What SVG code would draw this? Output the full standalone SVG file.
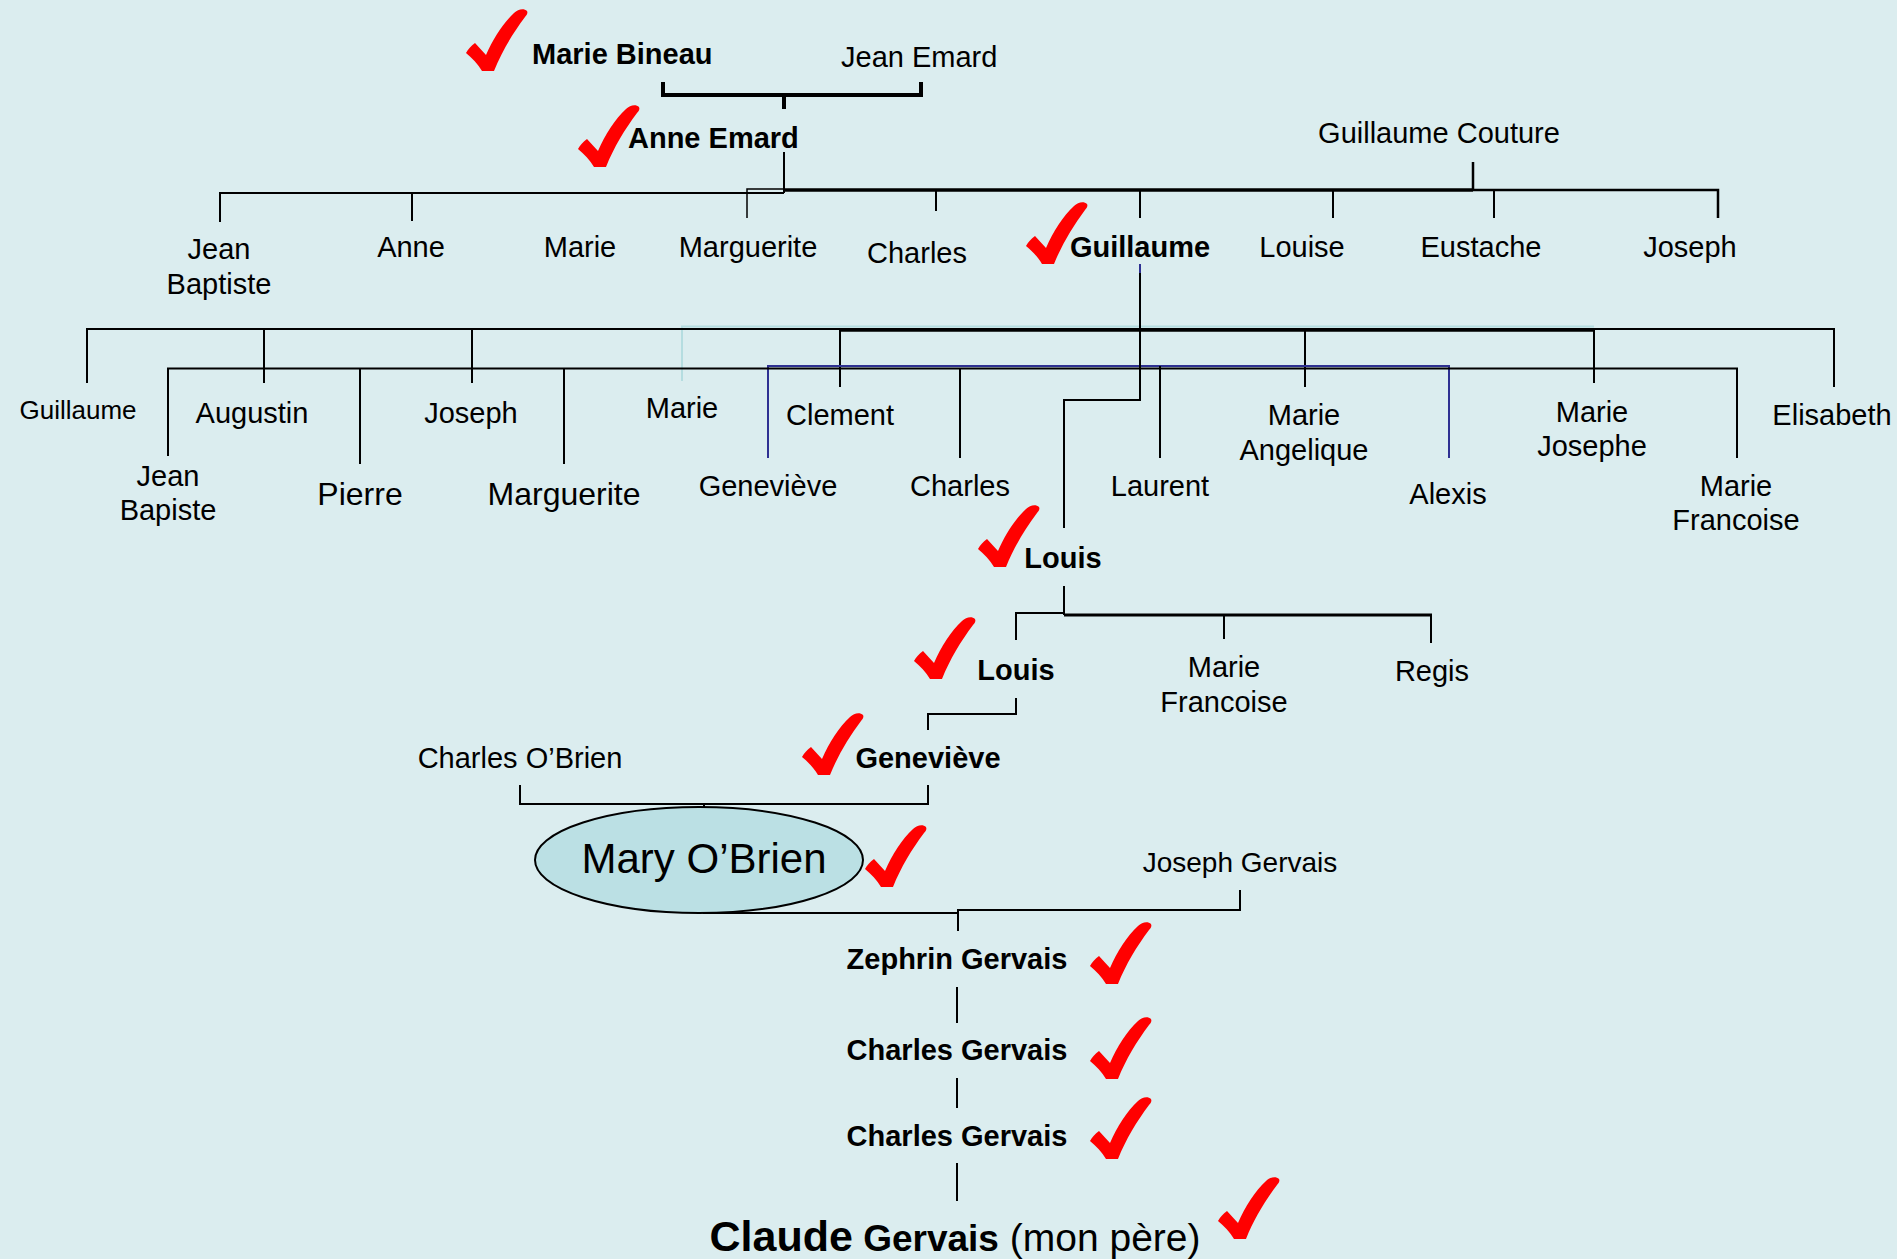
<svg xmlns="http://www.w3.org/2000/svg" width="1897" height="1259" viewBox="0 0 1897 1259">
<defs>
<style>
text{font-family:"Liberation Sans",Arial,sans-serif;font-size:29px;fill:#000;text-anchor:middle}
.b{font-weight:bold}
.s{text-anchor:start}
.ln{fill:none;stroke:#000;stroke-width:2}
.tk{fill:none;stroke:#000;stroke-width:4}
.bl{fill:none;stroke:#2E3192;stroke-width:2}
.lb{fill:none;stroke:#B5DDE0;stroke-width:2}
.chk{fill:#FF0000}
</style>
<path id="chk" class="chk" d="M0 44 C2 40 5 37 9 34 L20 46 C27 30 37 14 48 4 C52 0 58 -1 61 2 C62 4 61 6 59 8 C47 24 36 42 28 62 L16 62 C12 55 6 49 0 44 Z"/>
</defs>
<rect width="1897" height="1259" fill="#DBEDEF"/>

<g id="connectors">
<path class="tk" d="M663 82 V95 H921 V82 M784 95 V109"/>
<path class="ln" d="M784 152 V193 M220 222 V193 H784"/>
<path class="ln" style="stroke-width:1.5" d="M747 218 V189 H784"/>
<path class="ln" style="stroke-width:3.5" d="M784 190 H1473"/>
<path class="ln" style="stroke-width:2.5" d="M1473 190 H1718 V218 M1473 162 V190"/>
<path class="ln" d="M412 193 V221 M936 191 V211 M1140 191 V218 M1333 191 V218 M1494 191 V218"/>
<path class="bl" d="M1140 264 V273"/>
<path class="lb" d="M682 381 V326.5 H1594"/>
<path class="ln" d="M87 383 V329 H1834 V387"/>
<path class="ln" style="stroke-width:3.5" d="M840 330 H1594"/>
<path class="ln" d="M264 329 V383 M472 329 V383 M840 329 V387 M1305 329 V387 M1594 329 V383"/>
<path class="bl" d="M768 458 V366 H1449 V458"/>
<path class="ln" d="M168 456 V368.5 H1737 V458 M360 368 V464 M564 368 V464 M960 368 V458 M1160 366 V458"/>
<path class="ln" d="M1140 273 V400 H1064 V528"/>
<path class="ln" d="M1064 586 V615 M1016 640 V613 H1064 M1224 615 V639 M1431 615 V643"/>
<path class="ln" style="stroke-width:3" d="M1064 615 H1432"/>
<path class="ln" d="M1016 698 V714 H928 V730"/>
<path class="ln" d="M520 785 V804 H928 V785 M704 804 V823"/>
<path class="ln" d="M704 895 V913 H958 M958 931 V910 H1240 V890"/>
<path class="ln" d="M957 987 V1023 M957 1078 V1108 M957 1163 V1201"/>
</g>

<g id="n-marie-bineau"><use href="#chk" x="466" y="9"/><text class="b s" x="532" y="64">Marie Bineau</text></g>
<g id="n-jean-emard"><text class="s" x="841" y="67">Jean Emard</text></g>
<g id="n-anne-emard"><use href="#chk" x="578" y="105"/><text class="b s" x="628" y="148">Anne Emard</text></g>
<g id="n-guillaume-couture"><text x="1439" y="143">Guillaume Couture</text></g>

<g id="n-g1-jean-baptiste"><text x="219" y="259">Jean</text><text x="219" y="294">Baptiste</text></g>
<g id="n-g1-anne"><text x="411" y="257">Anne</text></g>
<g id="n-g1-marie"><text x="580" y="257">Marie</text></g>
<g id="n-g1-marguerite"><text x="748" y="257">Marguerite</text></g>
<g id="n-g1-charles"><text x="917" y="263">Charles</text></g>
<g id="n-g1-guillaume"><use href="#chk" x="1026" y="202"/><text class="b" x="1140" y="257">Guillaume</text></g>
<g id="n-g1-louise"><text x="1302" y="257">Louise</text></g>
<g id="n-g1-eustache"><text x="1481" y="257">Eustache</text></g>
<g id="n-g1-joseph"><text x="1690" y="257">Joseph</text></g>

<g id="n-g2-guillaume"><text x="78" y="419" style="font-size:26px">Guillaume</text></g>
<g id="n-g2-augustin"><text x="252" y="423">Augustin</text></g>
<g id="n-g2-joseph"><text x="471" y="423">Joseph</text></g>
<g id="n-g2-marie"><text x="682" y="418">Marie</text></g>
<g id="n-g2-clement"><text x="840" y="425">Clement</text></g>
<g id="n-g2-jean-bapiste"><text x="168" y="486">Jean</text><text x="168" y="520">Bapiste</text></g>
<g id="n-g2-pierre"><text x="360" y="505" style="font-size:32px">Pierre</text></g>
<g id="n-g2-marguerite"><text x="564" y="505" style="font-size:32px">Marguerite</text></g>
<g id="n-g2-genevieve"><text x="768" y="496">Geneviève</text></g>
<g id="n-g2-charles"><text x="960" y="496">Charles</text></g>
<g id="n-g2-laurent"><text x="1160" y="496">Laurent</text></g>
<g id="n-g2-marie-angelique"><text x="1304" y="425">Marie</text><text x="1304" y="460">Angelique</text></g>
<g id="n-g2-alexis"><text x="1448" y="504">Alexis</text></g>
<g id="n-g2-marie-josephe"><text x="1592" y="422">Marie</text><text x="1592" y="456">Josephe</text></g>
<g id="n-g2-elisabeth"><text x="1832" y="425">Elisabeth</text></g>
<g id="n-g2-marie-francoise"><text x="1736" y="496">Marie</text><text x="1736" y="530">Francoise</text></g>
<g id="n-g2-louis"><use href="#chk" x="978" y="505"/><text class="b" x="1063" y="568">Louis</text></g>

<g id="n-g3-louis"><use href="#chk" x="914" y="617"/><text class="b" x="1016" y="680">Louis</text></g>
<g id="n-g3-marie-francoise"><text x="1224" y="677">Marie</text><text x="1224" y="712">Francoise</text></g>
<g id="n-g3-regis"><text x="1432" y="681">Regis</text></g>

<g id="n-genevieve"><use href="#chk" x="802" y="713"/><text class="b" x="928" y="768">Geneviève</text></g>
<g id="n-charles-obrien"><text x="520" y="768">Charles O’Brien</text></g>
<g id="n-mary-obrien"><ellipse cx="699" cy="860" rx="164" ry="53" fill="#BBE0E4" stroke="#000" stroke-width="2"/><text x="704" y="873" style="font-size:42px">Mary O’Brien</text><use href="#chk" x="865" y="825"/></g>
<g id="n-joseph-gervais"><text x="1240" y="872" style="font-size:28px">Joseph Gervais</text></g>
<g id="n-zephrin"><text class="b" x="957" y="969">Zephrin Gervais</text><use href="#chk" x="1090" y="922"/></g>
<g id="n-charles-gervais-1"><text class="b" x="957" y="1060">Charles Gervais</text><use href="#chk" x="1090" y="1017"/></g>
<g id="n-charles-gervais-2"><text class="b" x="957" y="1146">Charles Gervais</text><use href="#chk" x="1090" y="1097"/></g>
<g id="n-claude"><text x="955" y="1251"><tspan class="b" style="font-size:43px">Claude</tspan><tspan class="b" style="font-size:37px"> Gervais</tspan><tspan style="font-size:39px"> (mon père)</tspan></text><use href="#chk" x="1218" y="1177"/></g>
</svg>
